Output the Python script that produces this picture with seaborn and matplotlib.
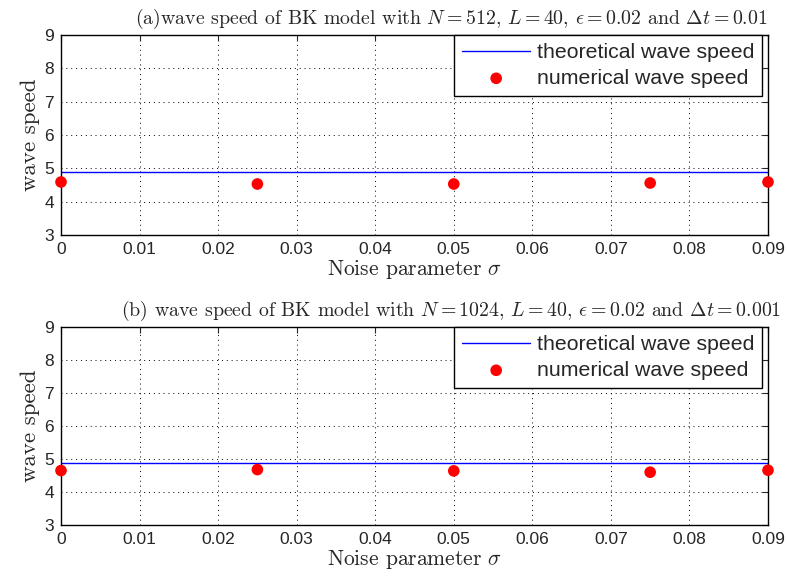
import matplotlib
matplotlib.use("Agg")
import matplotlib.pyplot as plt
import seaborn as sns
import pandas as pd

# Noise levels and measured wave speeds for the two resolutions
sigma = [0.0, 0.025, 0.05, 0.075, 0.09]
speed_a = [4.59, 4.53, 4.53, 4.56, 4.59]
speed_b = [4.65, 4.68, 4.64, 4.60, 4.66]
theory_a = 4.88
theory_b = 4.87
x_range = [0.0, 0.09]

titles = [
    r"(a)wave speed of BK model with $N=512$, $L=40$, $\epsilon=0.02$ and $\Delta t=0.01$",
    r"(b) wave speed of BK model with $N=1024$, $L=40$, $\epsilon=0.02$ and $\Delta t=0.001$",
]
xticks = [0, 0.01, 0.02, 0.03, 0.04, 0.05, 0.06, 0.07, 0.08, 0.09]
xticklabels = ["0", "0.01", "0.02", "0.03", "0.04", "0.05", "0.06", "0.07", "0.08", "0.09"]
yticks = [3, 4, 5, 6, 7, 8, 9]

sns.set_style("white")
plt.rcParams["mathtext.fontset"] = "cm"
plt.rcParams["font.family"] = ["Liberation Sans", "DejaVu Sans"]

fig = plt.figure(figsize=(7.89, 5.81), dpi=100)
ax_a = fig.add_axes([61 / 789, 1 - 235 / 581, 707 / 789, 200 / 581])
ax_b = fig.add_axes([61 / 789, 1 - 525 / 581, 707 / 789, 198 / 581])

serif = dict(family="cmr10")

for ax, speeds, theory, title in [
    (ax_a, speed_a, theory_a, titles[0]),
    (ax_b, speed_b, theory_b, titles[1]),
]:
    line_df = pd.DataFrame({"sigma": x_range, "speed": [theory, theory]})
    pts_df = pd.DataFrame({"sigma": sigma, "speed": speeds})
    sns.lineplot(data=line_df, x="sigma", y="speed", ax=ax, color="#0000ff",
                 linewidth=1.0, label="theoretical wave speed")
    sns.scatterplot(data=pts_df, x="sigma", y="speed", ax=ax, color="#ff0000",
                    s=70, edgecolor="none", label="numerical wave speed",
                    clip_on=False, zorder=5)
    ax.set_xlim(0, 0.09)
    ax.set_ylim(3, 9)
    ax.set_xticks(xticks)
    ax.set_xticklabels(xticklabels)
    ax.set_yticks(yticks)
    ax.tick_params(axis="both", direction="in", labelsize=12.5, length=4,
                   top=True, right=True, pad=5)
    ax.grid(True, linestyle=(0, (1, 4)), color="black", linewidth=0.7)
    for sp in ax.spines.values():
        sp.set_color("black")
        sp.set_linewidth(1.0)
    ax.set_xlabel(r"Noise parameter $\sigma$", fontsize=15.5, labelpad=1, **serif)
    ax.set_ylabel("wave speed", fontsize=16.5, labelpad=3, **serif)
    ax.set_title(title, fontsize=14.3, x=0.552, pad=8, **serif)
    leg = ax.legend(loc="upper right", bbox_to_anchor=(0.9915, 1.0),
                    fontsize=15.3, frameon=True, fancybox=False,
                    edgecolor="black", framealpha=1, borderpad=0.38,
                    handlelength=3.2, handletextpad=0.3, borderaxespad=0.0,
                    labelspacing=0.32)
    leg.get_frame().set_linewidth(1.0)

fig.savefig("out.png", dpi=100)
